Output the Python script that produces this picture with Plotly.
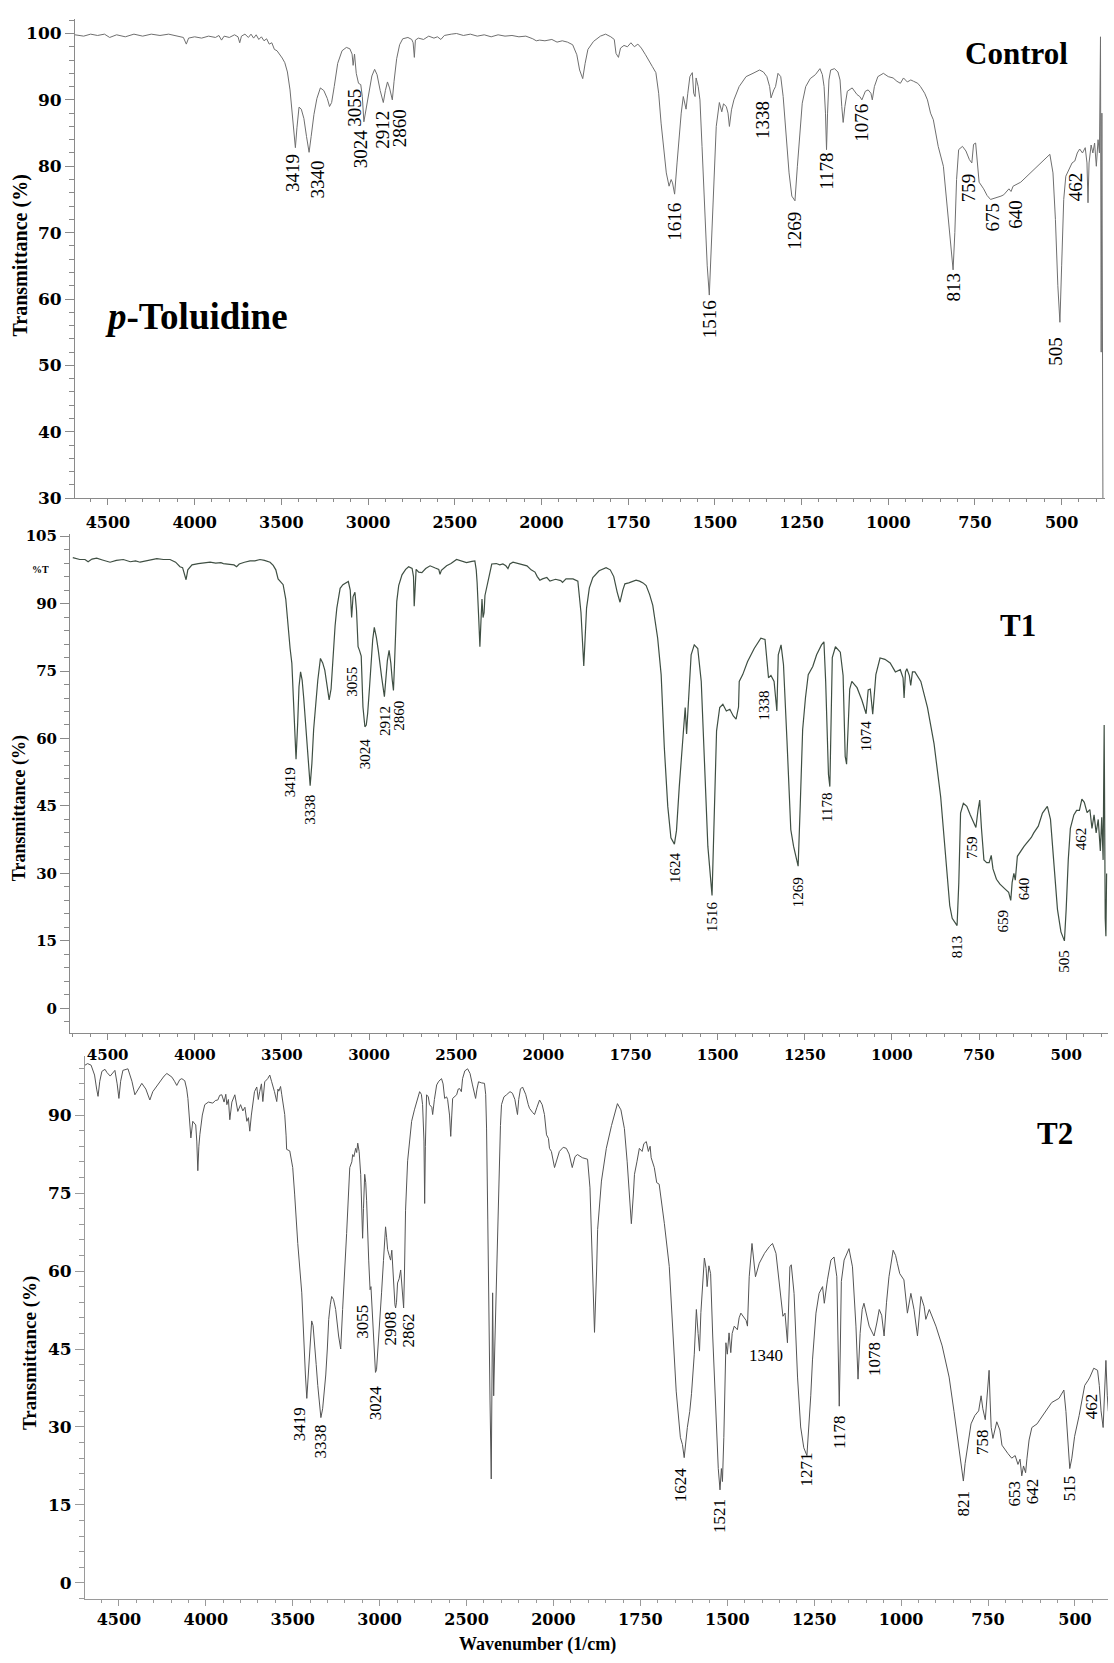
import numpy as np
import plotly.graph_objects as go

W, H = 1114, 1663

# ---------------- data ----------------
x_tick_wn = [4500, 4000, 3500, 3000, 2500, 2000, 1750, 1500, 1250, 1000, 750, 500]
x_tick_text = [str(v) for v in x_tick_wn]
y_ticks_control = [30, 40, 50, 60, 70, 80, 90, 100]
y_ticks_t1 = [0, 15, 30, 45, 60, 75, 90, 105]
y_ticks_t2 = [0, 15, 30, 45, 60, 75, 90]

# (wavenumber 1/cm, transmittance %)
control = [
    (4690, 99.8), (4640, 99.6), (4600, 99.9), (4560, 99.7), (4520, 99.9), (4490, 99.4), (4450, 99.8),
    (4400, 99.5), (4350, 99.9), (4300, 99.6), (4250, 99.9), (4200, 99.7), (4150, 99.9), (4100, 99.6),
    (4065, 99.4), (4048, 98.4), (4035, 99.3), (4000, 99.5), (3960, 99.3), (3920, 99.6), (3880, 99.4),
    (3860, 99.7), (3845, 99.0), (3830, 99.6), (3800, 99.4), (3770, 99.8), (3750, 99.5), (3740, 98.6),
    (3730, 99.6), (3710, 99.9), (3690, 99.4), (3675, 99.9), (3660, 99.3), (3645, 99.8), (3630, 99.1),
    (3615, 99.5), (3600, 98.9), (3585, 99.2), (3570, 98.4), (3555, 98.6), (3540, 97.6), (3525, 97.4),
    (3510, 96.9), (3495, 96.3), (3480, 95.6), (3465, 94.2), (3450, 91.5), (3437, 87.5), (3427, 84.5),
    (3419, 82.8), (3410, 85.8), (3398, 88.9), (3385, 88.6), (3370, 87.2), (3355, 84.5), (3340, 82.1),
    (3328, 84.5), (3312, 87.8), (3295, 90.2), (3275, 91.8), (3255, 91.4), (3235, 90.2), (3222, 89.0),
    (3210, 89.6), (3195, 92.0), (3175, 95.5), (3150, 97.4), (3125, 97.9), (3105, 97.7), (3092, 96.9),
    (3086, 95.2), (3078, 96.9), (3068, 94.0), (3055, 92.5), (3042, 92.3), (3033, 90.5), (3024, 86.7),
    (3012, 88.4), (2995, 91.2), (2978, 93.6), (2962, 94.6), (2948, 93.8), (2930, 91.4), (2912, 89.6),
    (2900, 91.4), (2888, 92.7), (2876, 91.8), (2860, 90.0), (2850, 92.8), (2835, 96.2), (2818, 98.3),
    (2800, 99.2), (2770, 99.4), (2748, 99.1), (2740, 98.6), (2733, 96.4), (2727, 99.0), (2710, 99.3),
    (2680, 99.1), (2650, 99.6), (2620, 99.3), (2600, 99.5), (2580, 99.1), (2560, 99.7), (2520, 99.9),
    (2490, 100.0), (2450, 99.7), (2410, 99.9), (2370, 99.6), (2330, 99.8), (2290, 99.5), (2250, 99.8),
    (2210, 99.6), (2170, 99.7), (2130, 99.5), (2090, 99.6), (2050, 99.2), (2030, 98.9), (2010, 99.0),
    (1990, 98.9), (1970, 99.1), (1955, 98.7), (1940, 98.9), (1925, 98.7), (1910, 98.3), (1898, 96.8),
    (1890, 94.5), (1881, 93.2), (1874, 95.5), (1866, 97.6), (1850, 98.8), (1830, 99.6), (1815, 99.9),
    (1800, 99.5), (1790, 99.1), (1785, 97.0), (1778, 96.4), (1772, 97.8), (1762, 98.2), (1752, 98.0),
    (1742, 98.6), (1732, 98.0), (1722, 98.4), (1712, 97.8), (1700, 96.8), (1690, 95.8), (1680, 95.0),
    (1670, 94.1), (1662, 91.0), (1655, 86.5), (1648, 82.5), (1640, 79.0), (1632, 77.0), (1626, 78.0),
    (1622, 77.5), (1616, 75.8), (1609, 80.5), (1602, 85.5), (1597, 88.0), (1591, 90.5), (1586, 89.5),
    (1583, 88.6), (1578, 91.0), (1572, 93.5), (1565, 94.1), (1561, 91.0), (1557, 90.5), (1554, 93.3),
    (1548, 92.0), (1543, 90.0), (1537, 83.0), (1530, 74.0), (1522, 65.0), (1516, 60.6), (1510, 68.0),
    (1503, 78.0), (1496, 86.0), (1487, 89.6), (1480, 88.2), (1475, 89.4), (1467, 89.0), (1462, 88.0),
    (1458, 86.0), (1452, 88.5), (1445, 90.0), (1430, 92.0), (1410, 93.5), (1390, 94.0), (1371, 94.5),
    (1360, 94.2), (1350, 93.5), (1342, 92.0), (1338, 90.3), (1330, 91.5), (1325, 92.0), (1318, 94.0),
    (1310, 93.5), (1303, 90.5), (1295, 85.0), (1286, 79.0), (1278, 75.5), (1269, 74.8), (1262, 80.0),
    (1255, 85.5), (1248, 89.5), (1238, 92.0), (1225, 93.2), (1210, 93.8), (1197, 94.7), (1190, 93.8),
    (1185, 92.0), (1181, 88.0), (1178, 82.5), (1175, 88.0), (1171, 93.0), (1166, 94.5), (1155, 94.7),
    (1145, 94.2), (1139, 93.0), (1134, 89.0), (1130, 86.6), (1125, 89.0), (1118, 91.3), (1104, 91.8),
    (1090, 90.8), (1082, 90.5), (1076, 90.0), (1066, 91.3), (1058, 91.5), (1050, 91.0), (1046, 90.0),
    (1040, 92.0), (1030, 93.5), (1014, 94.0), (1000, 93.5), (986, 93.3), (975, 92.8), (965, 92.5),
    (956, 93.3), (945, 92.7), (935, 93.0), (927, 92.8), (915, 92.5), (907, 92.0), (895, 91.0),
    (887, 90.0), (878, 88.0), (870, 87.0), (856, 83.0), (841, 80.0), (830, 74.0), (820, 68.0),
    (813, 64.4), (808, 70.0), (803, 78.0), (797, 82.5), (786, 83.0), (776, 82.3), (766, 81.0),
    (759, 80.5), (754, 83.3), (748, 83.5), (743, 80.0), (738, 77.6), (725, 76.6), (715, 75.6),
    (705, 75.0), (690, 75.2), (675, 75.5), (667, 75.7), (652, 76.6), (646, 76.2), (640, 77.0),
    (618, 77.6), (600, 78.5), (589, 79.0), (575, 79.8), (560, 80.5), (545, 81.3), (534, 81.8),
    (525, 79.0), (518, 72.0), (511, 62.0), (505, 56.5), (500, 65.0), (494, 75.0), (488, 78.5),
    (478, 79.5), (470, 80.5), (462, 80.8), (455, 82.0), (448, 82.6), (440, 82.0), (432, 82.8),
    (427, 80.5), (424, 74.5), (421, 80.5), (415, 83.2), (410, 82.0), (405, 83.5), (400, 80.0),
    (395, 84.0), (391, 82.0), (388, 99.5), (386, 52.0), (384, 88.0), (381, 30.0),
]

t1 = [
    (4700, 100.2), (4660, 99.8), (4630, 99.8), (4612, 99.3), (4590, 99.9), (4563, 100.1), (4530, 99.7),
    (4500, 99.4), (4486, 99.2), (4450, 99.6), (4410, 99.8), (4370, 99.3), (4340, 99.5), (4314, 99.2),
    (4270, 99.6), (4218, 100.0), (4180, 99.8), (4142, 99.8), (4110, 99.2), (4085, 98.2), (4070, 98.0),
    (4058, 96.5), (4050, 95.3), (4040, 97.5), (4016, 98.6), (3980, 98.9), (3950, 99.1), (3912, 99.2),
    (3880, 99.0), (3850, 99.1), (3836, 98.9), (3800, 98.8), (3775, 98.6), (3760, 98.2), (3745, 98.8),
    (3715, 99.2), (3683, 99.5), (3655, 99.5), (3626, 99.8), (3600, 99.6), (3568, 99.2), (3550, 98.5),
    (3535, 97.5), (3522, 95.5), (3505, 94.6), (3493, 94.2), (3478, 91.0), (3465, 84.7), (3453, 80.0),
    (3443, 76.7), (3430, 65.7), (3419, 55.4), (3410, 63.0), (3402, 71.5), (3393, 74.8), (3384, 73.0),
    (3375, 69.0), (3360, 60.5), (3350, 54.0), (3338, 49.5), (3328, 54.5), (3318, 62.0), (3305, 68.0),
    (3294, 73.0), (3279, 77.8), (3266, 76.8), (3254, 75.2), (3240, 72.0), (3229, 68.6), (3218, 71.0),
    (3207, 78.0), (3195, 85.0), (3185, 89.0), (3166, 93.4), (3150, 94.2), (3138, 94.5), (3119, 94.9),
    (3108, 93.0), (3100, 86.9), (3092, 91.5), (3081, 92.5), (3072, 88.5), (3063, 80.4), (3055, 79.6),
    (3045, 78.3), (3035, 67.0), (3024, 62.6), (3016, 63.0), (3008, 65.6), (2998, 71.0), (2989, 76.6),
    (2979, 82.0), (2970, 84.7), (2958, 82.5), (2947, 79.6), (2935, 75.5), (2928, 73.7), (2912, 69.3),
    (2903, 73.5), (2895, 77.3), (2885, 79.6), (2875, 76.7), (2867, 73.0), (2860, 70.7), (2854, 76.5),
    (2848, 84.0), (2841, 90.5), (2830, 94.0), (2811, 96.4), (2790, 97.6), (2773, 98.2), (2753, 97.8),
    (2745, 96.0), (2741, 89.4), (2736, 93.5), (2730, 97.6), (2715, 97.0), (2697, 96.9), (2675, 97.8),
    (2650, 98.4), (2620, 97.9), (2600, 97.6), (2593, 96.5), (2585, 97.4), (2555, 98.4), (2530, 98.9),
    (2498, 99.8), (2470, 99.4), (2441, 99.1), (2410, 99.4), (2393, 99.5), (2385, 97.5), (2380, 94.7),
    (2370, 86.0), (2364, 80.4), (2358, 86.0), (2352, 91.0), (2346, 86.9), (2340, 88.0), (2335, 91.8),
    (2318, 94.7), (2308, 97.0), (2296, 98.8), (2270, 98.9), (2250, 98.6), (2232, 98.8), (2215, 98.4),
    (2203, 97.8), (2192, 98.8), (2174, 99.2), (2140, 98.8), (2120, 98.6), (2094, 98.4), (2070, 97.5),
    (2048, 97.0), (2035, 96.0), (2020, 95.2), (2005, 95.5), (1990, 95.8), (1981, 95.0), (1965, 95.4),
    (1950, 95.1), (1945, 94.7), (1935, 95.5), (1915, 95.5), (1901, 95.0), (1892, 88.0), (1884, 76.1),
    (1876, 89.0), (1868, 93.5), (1858, 95.8), (1840, 97.3), (1820, 98.0), (1808, 97.5), (1798, 96.0),
    (1788, 92.5), (1780, 90.3), (1772, 93.0), (1766, 94.4), (1755, 94.6), (1744, 94.9), (1734, 95.2),
    (1724, 95.0), (1714, 94.6), (1705, 94.0), (1695, 92.0), (1686, 89.6), (1678, 86.0), (1672, 82.3),
    (1662, 74.2), (1653, 58.1), (1643, 44.9), (1634, 37.9), (1624, 36.5), (1618, 39.5), (1610, 49.3),
    (1600, 60.0), (1593, 66.9), (1589, 61.0), (1585, 66.5), (1576, 78.6), (1567, 80.8), (1557, 80.0),
    (1547, 72.7), (1538, 54.3), (1528, 36.0), (1516, 25.1), (1510, 40.0), (1503, 61.7), (1494, 66.9),
    (1485, 67.6), (1475, 66.1), (1465, 66.5), (1455, 65.0), (1447, 64.3), (1440, 67.0), (1438, 72.7),
    (1428, 74.2), (1414, 77.1), (1395, 80.0), (1376, 82.3), (1364, 82.0), (1354, 73.5), (1347, 74.0),
    (1338, 72.7), (1330, 66.1), (1326, 78.6), (1318, 80.8), (1311, 76.4), (1301, 59.5), (1290, 39.7),
    (1282, 36.0), (1274, 33.0), (1269, 31.6), (1263, 45.0), (1256, 62.0), (1248, 69.0), (1240, 74.2),
    (1227, 76.0), (1216, 78.6), (1202, 80.8), (1195, 81.5), (1190, 72.7), (1186, 62.0), (1182, 52.0),
    (1178, 49.3), (1175, 60.0), (1171, 78.0), (1162, 80.4), (1148, 79.2), (1140, 74.0), (1134, 56.0),
    (1130, 54.3), (1126, 62.0), (1121, 71.0), (1115, 72.7), (1100, 71.3), (1086, 68.5), (1074, 65.5),
    (1068, 70.8), (1062, 71.0), (1055, 65.4), (1046, 74.2), (1034, 77.9), (1020, 77.6), (1005, 76.8),
    (990, 74.8), (976, 75.3), (968, 73.5), (965, 69.0), (961, 74.8), (957, 75.5), (950, 74.0),
    (946, 71.8), (941, 74.8), (934, 74.8), (917, 72.7), (898, 66.9), (879, 58.8), (860, 47.0),
    (845, 32.4), (834, 22.8), (827, 20.0), (813, 18.4), (808, 28.0), (803, 43.4), (795, 45.6),
    (785, 44.9), (775, 43.0), (765, 41.0), (759, 40.2), (753, 44.0), (748, 46.3), (743, 40.0),
    (736, 33.0), (728, 32.4), (721, 32.4), (715, 34.0), (710, 31.0), (700, 28.7), (690, 27.6),
    (675, 26.5), (665, 25.8), (659, 24.0), (655, 28.0), (650, 30.0), (646, 28.5), (640, 33.8),
    (630, 35.0), (621, 36.0), (600, 38.0), (593, 39.0), (580, 40.5), (568, 43.4), (554, 44.9),
    (545, 42.0), (535, 32.0), (525, 22.0), (515, 17.0), (505, 15.0), (500, 22.0), (494, 33.0),
    (488, 40.0), (478, 43.0), (470, 44.0), (462, 44.0), (455, 46.5), (448, 45.8), (440, 43.5),
    (432, 44.2), (426, 40.0), (420, 43.0), (414, 39.0), (408, 42.0), (402, 35.0), (398, 42.5),
    (394, 33.0), (391, 63.0), (388, 20.0), (386, 16.0), (384, 30.0),
]

t2 = [
    (4695, 99.6), (4680, 99.9), (4660, 99.6), (4640, 97.7), (4628, 95.0), (4620, 93.6), (4610, 96.5),
    (4598, 98.4), (4580, 98.8), (4569, 98.2), (4550, 97.5), (4540, 98.0), (4523, 98.6), (4510, 96.0),
    (4500, 93.2), (4490, 96.5), (4477, 98.6), (4448, 98.9), (4425, 96.5), (4408, 93.9), (4390, 95.0),
    (4368, 96.1), (4345, 95.0), (4322, 92.9), (4305, 94.5), (4293, 95.1), (4264, 96.4), (4240, 97.5),
    (4224, 98.0), (4195, 97.3), (4180, 96.5), (4167, 95.7), (4150, 96.8), (4138, 97.0), (4121, 96.6),
    (4110, 95.0), (4103, 93.2), (4090, 87.0), (4086, 85.6), (4075, 88.8), (4065, 88.3), (4058, 88.1),
    (4052, 85.0), (4046, 79.3), (4040, 84.0), (4034, 86.3), (4020, 90.0), (4006, 92.0), (3985, 92.5),
    (3960, 92.3), (3945, 92.8), (3931, 92.9), (3920, 93.8), (3908, 93.9), (3895, 92.5), (3885, 94.0),
    (3879, 92.0), (3870, 93.0), (3862, 89.1), (3850, 92.5), (3833, 93.9), (3825, 92.0), (3816, 90.7),
    (3800, 92.0), (3787, 90.8), (3775, 91.5), (3764, 88.8), (3755, 89.5), (3747, 86.9), (3738, 90.0),
    (3730, 92.6), (3720, 94.5), (3707, 95.4), (3698, 93.0), (3690, 94.5), (3680, 96.0), (3672, 92.6),
    (3661, 96.4), (3644, 97.0), (3632, 97.7), (3622, 96.5), (3615, 95.4), (3605, 94.5), (3592, 92.6),
    (3585, 95.0), (3580, 94.6), (3570, 95.5), (3563, 93.9), (3555, 92.0), (3546, 90.1), (3538, 86.0),
    (3535, 83.4), (3517, 83.1), (3508, 81.5), (3500, 79.9), (3489, 74.8), (3471, 65.3), (3448, 55.8),
    (3437, 46.3), (3427, 40.0), (3419, 35.5), (3412, 39.0), (3405, 44.5), (3398, 48.0), (3391, 50.4),
    (3383, 49.5), (3374, 46.3), (3365, 42.0), (3356, 38.0), (3345, 34.0), (3338, 31.8), (3328, 33.5),
    (3318, 37.0), (3310, 40.0), (3301, 45.0), (3293, 50.7), (3284, 53.5), (3276, 55.1), (3265, 54.5),
    (3253, 52.6), (3236, 47.5), (3224, 45.0), (3213, 52.6), (3200, 60.0), (3190, 67.2), (3172, 79.9),
    (3160, 81.0), (3155, 82.4), (3148, 82.0), (3138, 83.6), (3132, 82.8), (3126, 84.6), (3118, 83.0),
    (3109, 78.6), (3102, 70.0), (3098, 66.3), (3093, 72.0), (3086, 78.6), (3080, 77.0), (3075, 73.5),
    (3063, 62.1), (3055, 56.4), (3050, 57.0), (3040, 49.4), (3032, 44.0), (3024, 40.5), (3018, 41.0),
    (3011, 44.3), (2989, 55.8), (2978, 62.0), (2966, 68.5), (2960, 66.5), (2954, 64.1), (2945, 63.0),
    (2937, 62.1), (2930, 64.0), (2925, 60.9), (2918, 56.0), (2912, 53.5), (2908, 52.9), (2903, 54.0),
    (2897, 57.7), (2888, 58.5), (2879, 60.2), (2874, 58.0), (2868, 54.0), (2862, 52.9), (2857, 60.0),
    (2851, 71.7), (2839, 81.2), (2828, 85.5), (2816, 88.8), (2800, 91.0), (2787, 92.6), (2770, 94.5),
    (2760, 94.0), (2753, 92.0), (2745, 85.0), (2741, 73.0), (2737, 84.0), (2730, 93.9), (2720, 93.5),
    (2713, 92.0), (2700, 91.5), (2695, 90.1), (2685, 93.0), (2672, 95.8), (2660, 96.5), (2644, 97.0),
    (2635, 96.0), (2626, 93.2), (2615, 93.5), (2609, 93.0), (2598, 90.0), (2591, 85.9), (2585, 90.0),
    (2580, 93.2), (2557, 93.9), (2548, 95.0), (2540, 95.1), (2530, 94.5), (2523, 97.0), (2510, 98.5),
    (2494, 98.9), (2480, 98.0), (2466, 95.8), (2455, 94.5), (2448, 93.2), (2440, 95.0), (2431, 96.4),
    (2415, 96.2), (2397, 96.1), (2390, 94.0), (2385, 87.5), (2378, 70.0), (2374, 55.8), (2365, 35.0),
    (2358, 20.0), (2354, 40.0), (2350, 55.8), (2347, 45.0), (2344, 36.0), (2338, 45.0), (2330, 55.8),
    (2324, 65.0), (2316, 72.4), (2310, 80.0), (2305, 88.0), (2299, 92.0), (2285, 93.5), (2270, 93.9),
    (2250, 94.5), (2236, 94.2), (2222, 93.0), (2212, 91.0), (2207, 90.1), (2200, 93.0), (2190, 95.0),
    (2178, 95.4), (2160, 94.0), (2145, 92.0), (2138, 91.3), (2120, 90.5), (2109, 90.1), (2095, 91.5),
    (2080, 92.9), (2065, 92.0), (2052, 90.1), (2040, 86.2), (2029, 85.5), (2023, 83.6), (2012, 83.0),
    (1997, 79.9), (1990, 81.5), (1983, 83.0), (1972, 83.8), (1963, 83.6), (1955, 82.5), (1946, 79.9),
    (1938, 82.0), (1931, 82.4), (1917, 81.8), (1902, 81.5), (1895, 76.0), (1891, 68.4), (1882, 48.2),
    (1876, 60.0), (1873, 68.0), (1862, 77.3), (1848, 83.6), (1833, 88.0), (1825, 90.0), (1816, 92.2),
    (1806, 91.0), (1796, 87.4), (1788, 81.0), (1782, 75.4), (1776, 69.1), (1770, 75.0), (1767, 78.6),
    (1760, 81.0), (1753, 83.6), (1745, 83.0), (1740, 84.5), (1733, 84.9), (1727, 83.0), (1722, 84.0),
    (1719, 81.8), (1710, 79.9), (1703, 77.0), (1696, 76.7), (1688, 73.0), (1681, 69.1), (1667, 60.9),
    (1658, 49.5), (1647, 36.9), (1635, 28.0), (1629, 26.6), (1624, 24.1), (1619, 27.5), (1615, 29.9),
    (1608, 33.0), (1603, 36.4), (1595, 44.0), (1589, 52.6), (1584, 48.0), (1580, 44.6), (1576, 52.0),
    (1571, 58.0), (1566, 62.5), (1561, 60.5), (1558, 57.0), (1553, 61.0), (1548, 59.5), (1542, 47.5),
    (1532, 30.0), (1526, 22.0), (1521, 17.9), (1517, 22.0), (1514, 19.5), (1510, 28.0), (1504, 46.2),
    (1500, 44.0), (1495, 48.1), (1490, 44.3), (1486, 48.0), (1480, 49.4), (1471, 48.7), (1466, 51.0),
    (1461, 51.9), (1451, 51.0), (1446, 50.5), (1442, 49.4), (1437, 58.9), (1429, 65.3), (1424, 62.0),
    (1419, 58.9), (1408, 61.5), (1393, 63.4), (1379, 64.7), (1370, 65.3), (1360, 63.4), (1350, 57.6),
    (1340, 51.3), (1334, 51.9), (1327, 46.2), (1320, 60.8), (1316, 61.2), (1308, 55.7), (1298, 39.6),
    (1289, 30.0), (1280, 26.0), (1271, 24.5), (1265, 30.0), (1260, 36.0), (1255, 42.9), (1245, 51.9),
    (1236, 55.7), (1226, 57.0), (1221, 53.8), (1212, 58.3), (1202, 62.1), (1193, 62.7), (1185, 58.9),
    (1181, 48.0), (1178, 34.0), (1175, 45.0), (1172, 58.0), (1164, 62.1), (1150, 64.3), (1140, 60.8),
    (1130, 49.4), (1124, 39.2), (1118, 48.0), (1112, 52.6), (1107, 53.8), (1092, 49.4), (1078, 47.5),
    (1070, 50.0), (1063, 52.6), (1056, 51.5), (1049, 47.5), (1042, 54.0), (1035, 58.9), (1023, 64.0),
    (1016, 63.0), (1011, 61.5), (1004, 59.5), (992, 58.3), (982, 51.9), (972, 55.7), (963, 52.6),
    (953, 47.5), (943, 55.1), (934, 53.2), (929, 50.7), (919, 52.6), (900, 49.4), (882, 45.6),
    (862, 39.6), (848, 33.0), (835, 26.0), (826, 21.5), (821, 19.6), (816, 23.0), (809, 26.5),
    (799, 30.6), (788, 32.2), (777, 33.1), (770, 36.0), (765, 33.5), (758, 31.4), (754, 35.5),
    (750, 38.0), (747, 40.9), (744, 35.0), (741, 29.9), (736, 27.8), (730, 29.5), (725, 31.0),
    (716, 29.4), (710, 26.5), (693, 24.9), (682, 24.0), (672, 24.5), (664, 22.8), (658, 23.8),
    (653, 20.6), (648, 22.5), (642, 21.2), (638, 24.0), (632, 27.5), (624, 29.9), (609, 30.6),
    (600, 31.5), (588, 32.7), (567, 34.7), (546, 35.5), (532, 37.1), (526, 33.0), (520, 26.5),
    (515, 22.0), (509, 24.0), (501, 28.2), (488, 32.2), (472, 38.0), (462, 39.0), (457, 39.6),
    (446, 41.3), (435, 40.9), (430, 38.0), (425, 33.1), (419, 29.9), (414, 38.0), (411, 42.8),
    (407, 36.0), (404, 33.0),
]

control_peaks = [3419, 3340, 3055, 3024, 2912, 2860, 1616, 1516, 1338, 1269, 1178, 1076,
                 813, 759, 675, 640, 505, 462]
t1_peaks = [3419, 3338, 3055, 3024, 2912, 2860, 1624, 1516, 1338, 1269, 1178, 1074,
            813, 759, 659, 640, 505, 462]
t2_peaks = [3419, 3338, 3055, 3024, 2908, 2862, 1624, 1521, 1340, 1271, 1178, 1078,
            821, 758, 653, 642, 515, 462]

# ---------------- styling ----------------
SERIF = "Liberation Serif"
TICKFONT = "DejaVu Serif"

# label nudges in pixels: (dx, gap below curve)
control_nudge = {3419: (-3, 5), 3340: (8, 7), 3055: (-4, 5), 3024: (-4, 6), 2912: (-1, 7), 2860: (8, 8),
                 1616: (0, 8), 1516: (0, 4), 1338: (-8, 2), 1269: (0, 10), 1178: (0, 2), 1076: (0, 3),
                 813: (0, 2), 759: (-3, 9), 675: (-8, 5), 640: (3, 13), 505: (-4, 13), 462: (1, 10)}
t1_nudge = {3419: (-6, 7), 3338: (0, 8), 3055: (-7, 15), 3024: (0, 10), 2912: (0, 8), 2860: (6, 9),
            1624: (0, 7), 1516: (0, 5), 1338: (-10, 8), 1269: (0, 10), 1178: (-3, 5), 1074: (0, 6),
            813: (0, 9), 759: (-4, 7), 659: (-8, 8), 640: (6, 20), 505: (0, 8), 462: (2, 16)}
t2_nudge = {3419: (-7, 8), 3338: (0, 6), 3055: (-7, 14), 3024: (0, 12), 2908: (-5, 3), 2862: (5, 5),
            1624: (-4, 9), 1521: (0, 8), 1340: (-17, 39), 1271: (0, -4), 1178: (0, 9), 1078: (0, 5),
            821: (0, 8), 758: (-3, 8), 653: (-7, 4), 642: (7, 5), 515: (0, 6), 462: (3, 12)}
horizontal_labels = {("t2", 1340)}


def to_axis(w):
    """Instrument x scale: linear, with the scale doubled below 2000 1/cm."""
    w = np.asarray(w, dtype=float)
    return np.where(w >= 2000, w, 2 * w - 2000)


def px_x(p):
    return p / W


def px_y(p):
    return 1 - p / H


panels = [
    dict(key="control", data=control, peaks=control_peaks, nudge=control_nudge, color="#6f6f6f", width=1.0,
         xdom=(75, 1105), ydom=(13, 497), xr=(4690, -1250), yr=(30, 102.2),
         yticks=y_ticks_control, yminor=2, ax="", tickfs=17, xtickfs=16, labfs=19, axcol="#8a8a8a",
         standoff=4),
    dict(key="t1", data=t1, peaks=t1_peaks, nudge=t1_nudge, color="#3f4f43", width=1.2,
         xdom=(70, 1108), ydom=(533, 1037), xr=(4716, -1240), yr=(-5.5, 105.5),
         yticks=y_ticks_t1, yminor=3, ax="2", tickfs=15, xtickfs=15, labfs=15, axcol="#8a8a8a",
         standoff=2),
    dict(key="t2", data=t2, peaks=t2_peaks, nudge=t2_nudge, color="#555555", width=1.0,
         xdom=(85, 1108), ydom=(1060, 1608), xr=(4695, -1190), yr=(-3.0, 101.4),
         yticks=y_ticks_t2, yminor=3, ax="3", tickfs=17, xtickfs=16, labfs=17, axcol="#9a9a9a",
         standoff=0),
]

fig = go.Figure()
annotations = []
layout_axes = {}

for p in panels:
    wn = np.array([d[0] for d in p["data"]], dtype=float)
    tr = np.array([d[1] for d in p["data"]], dtype=float)
    xa = "x" + p["ax"]
    ya = "y" + p["ax"]
    fig.add_trace(go.Scatter(x=to_axis(wn), y=tr, mode="lines",
                             line=dict(color=p["color"], width=p["width"]),
                             xaxis=xa, yaxis=ya, hoverinfo="skip", showlegend=False))

    layout_axes["xaxis" + p["ax"]] = dict(
        domain=[px_x(p["xdom"][0]), px_x(p["xdom"][1])], range=list(p["xr"]), anchor=ya,
        tickmode="array", tickvals=[float(v) for v in to_axis(x_tick_wn)], ticktext=x_tick_text,
        ticks="outside", ticklen=6, tickwidth=1, tickcolor=p["axcol"], ticklabelstandoff=p["standoff"],
        showline=True, linecolor=p["axcol"], linewidth=1, showgrid=False, zeroline=False,
        tickfont=dict(family=TICKFONT, size=p["xtickfs"], color="black", weight="bold"),
        minor=dict(tickmode="linear", tick0=0, dtick=100, ticks="outside", ticklen=3,
                   tickcolor=p["axcol"], tickwidth=1),
        fixedrange=True)
    layout_axes["yaxis" + p["ax"]] = dict(
        domain=[px_y(p["ydom"][1]), px_y(p["ydom"][0])], range=list(p["yr"]), anchor=xa,
        tickmode="array", tickvals=p["yticks"], ticks="outside", ticklen=9, tickwidth=1,
        tickcolor=p["axcol"], showline=True, linecolor=p["axcol"], linewidth=1,
        showgrid=False, zeroline=False,
        tickfont=dict(family=TICKFONT, size=p["tickfs"], color="black", weight="bold"),
        minor=dict(tickmode="linear", tick0=0, dtick=p["yminor"], ticks="outside", ticklen=5,
                   tickcolor=p["axcol"], tickwidth=1),
        fixedrange=True)

    # peak labels anchored on the curve
    order = np.argsort(wn)
    for pk in p["peaks"]:
        yv = float(np.interp(pk, wn[order], tr[order]))
        dx, gap = p["nudge"].get(pk, (0, 5))
        horiz = (p["key"], pk) in horizontal_labels
        annotations.append(dict(
            x=float(to_axis(pk)), y=yv, xref=xa, yref=ya, text=str(pk), showarrow=False,
            textangle=0 if horiz else -90, xanchor="center", yanchor="middle" if horiz else "top",
            xshift=dx, yshift=-gap, font=dict(family=SERIF, size=p["labfs"], color="black"),
            borderpad=0))

# axis titles and panel names
title_font = dict(family=SERIF, color="black", weight="bold")
for (xp, yp, fs) in [(21, 252, 20), (19, 810, 18), (30, 1360, 19)]:
    annotations.append(dict(x=px_x(xp), y=px_y(yp), xref="paper", yref="paper",
                            text="Transmittance (%)", textangle=-90, showarrow=False,
                            xanchor="center", yanchor="middle", font=dict(title_font, size=fs)))
annotations.append(dict(x=px_x(537), y=px_y(1654), xref="paper", yref="paper", text="Wavenumber (1/cm)",
                        showarrow=False, xanchor="center", yanchor="middle", font=dict(title_font, size=18)))
annotations.append(dict(x=px_x(40), y=97.6, xref="paper", yref="y2", text="%T", showarrow=False,
                        xanchor="center", yanchor="middle", font=dict(title_font, size=10)))
for txt, xp, yp, fs in [("Control", 1016, 48, 31), ("T1", 1018, 626, 31), ("T2", 1055, 1138, 31),
                        ("<i>p</i>-Toluidine", 196, 314, 37)]:
    annotations.append(dict(x=px_x(xp), y=px_y(yp), xref="paper", yref="paper", text=txt,
                            showarrow=False, xanchor="center", yanchor="middle",
                            font=dict(title_font, size=fs)))

fig.update_layout(width=W, height=H, margin=dict(l=0, r=0, t=0, b=0),
                  paper_bgcolor="white", plot_bgcolor="white",
                  annotations=annotations, showlegend=False, **layout_axes)

# remove the browser's default page margin so the figure fills the window exactly
fig.write_html("out.html", config={"displayModeBar": False},
               post_script="document.body.style.margin='0px';")
